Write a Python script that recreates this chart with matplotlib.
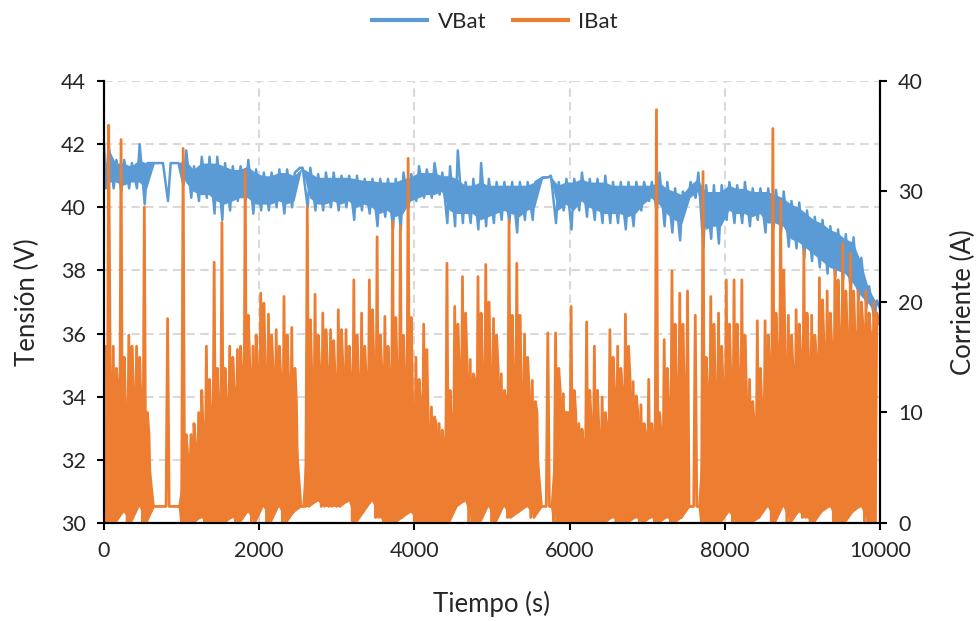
import numpy as np
import matplotlib
matplotlib.use("Agg")
import matplotlib.pyplot as plt

plt.rcParams['font.family'] = ['Lato', 'DejaVu Sans']
plt.rcParams['path.simplify'] = False

# 100 s bins, 0 ... 9900 s
t_bins = np.arange(0, 10000, 100)

# IBat per bin: floor, first spike, second spike and top of the dense band (A)
ibat_lo = [0, 0, 1, 0, 1.5, 0, 1.5, 1.5, 1.5, 1.5,
           0, 0, 0.5, 0, 0, 0, 0.5, 0, 1, 0,
           1.5, 0, 1.5, 0, 1, 1.5, 1.5, 2, 1.5, 1.5,
           1.5, 2, 0, 1, 2, 0.5, 0, 0, 0.5, 1,
           0, 0, 0, 0, 0, 1.5, 2, 0, 0, 1.5,
           0, 1.5, 0.5, 1, 1.5, 0.5, 1.5, 1.5, 0, 0,
           0, 0, 0, 0, 0, 0.5, 0, 0, 0.5, 0,
           0.5, 0, 0.5, 0, 0.5, 1.5, 1.5, 0, 0, 0,
           1, 0, 0, 0, 0.5, 1.5, 0, 1.5, 0, 1,
           0.5, 0, 1, 1.5, 0, 0, 1, 1.5, 0, 0]
ibat_peak = [16, 16, 34.7, 17, 16, 28.6, 1.5, 1.5, 18.5, 1.5,
             33.9, 8, 10, 16, 23.6, 27.2, 16, 15.7, 31.9, 16,
             20.8, 18.9, 17.5, 20.5, 17.7, 1.5, 28.6, 20.7, 19.0, 17.5,
             19.3, 17.5, 22, 19, 22, 25.9, 18.7, 27.3, 26.9, 33.0,
             15, 18, 10.5, 9, 23.5, 19.6, 22.3, 14.8, 22.3, 23.4,
             18.5, 13.5, 27.4, 23.5, 17.1, 12.9, 1.5, 17.2, 17.2, 11.7,
             19.6, 9, 18.2, 16, 11.4, 17.5, 16, 18.9, 12.8, 10.7,
             13, 37.4, 16.6, 22.8, 20.8, 21, 18.8, 31.8, 20.5, 19,
             22, 22, 22, 13, 18.3, 18.3, 35.7, 29.2, 18.8, 19.3,
             24.7, 18.8, 22.2, 21, 22.9, 25.3, 24.4, 21, 21, 20]
ibat_peak2 = [36, 14, 15, 16, 15, 10, 1.5, 1.5, 1.5, 1.5,
              8, 9, 12, 13, 14, 14, 15, 16, 18.8, 17,
              19.9, 17, 16, 17, 14, 1.5, 18.4, 17, 17.5, 16.5,
              17.5, 16, 17, 16, 19.3, 17, 16, 18.6, 17, 18.6,
              13, 15.7, 9.6, 8.4, 12, 18, 19, 13.5, 19, 20,
              17, 12, 18.8, 18.8, 15, 11, 1.5, 1.5, 14, 10,
              12, 8.5, 12, 12, 10, 15, 14, 16, 11.5, 9,
              9, 10, 14, 18, 18, 1.5, 1.5, 15, 18, 16,
              18, 18, 17, 11, 14, 17, 19, 22.9, 17, 18,
              19, 17, 20.2, 19, 22, 21, 21, 20, 19, 19]
ibat_body = [14, 12, 10, 12, 10, 8, 1.5, 1.5, 1.5, 1.5,
             6, 7, 8, 9, 10, 11, 12, 13, 14, 14,
             14, 14, 13, 13, 11, 1.5, 13, 14, 14, 13,
             14, 13, 13, 13, 14, 14, 13, 13, 12, 10,
             11, 9, 9, 7, 8, 14, 14, 13, 13, 14,
             14, 11, 13, 12, 12, 10, 1.5, 1.5, 12, 10,
             10, 7, 9, 8, 8, 12, 12, 13, 10, 8,
             7, 8, 10, 12, 12, 1.5, 1.5, 12, 12, 12,
             13, 13, 12, 9, 10, 14, 15, 15, 14, 15,
             15, 15, 16, 16, 17, 17, 17, 18, 17, 18]
ibat_end = 18.4

# VBat per bin: extreme low / high samples (V)
vbat_lo = [40.6, 40.6, 40.5, 40.6, 40.6, 40.1, 41.4, 41.4, 40.2, 41.4,
           40.7, 40.3, 40.2, 40.3, 39.8, 39.6, 39.9, 40.2, 40.2, 39.8,
           39.9, 39.9, 40.0, 39.8, 40.0, 41.25, 40.0, 39.9, 39.9, 40.0,
           39.9, 40.0, 39.6, 39.9, 39.8, 39.4, 39.7, 39.3, 39.3, 40.0,
           40.2, 40.3, 40.3, 40.4, 39.5, 39.4, 39.5, 39.5, 39.3, 39.4,
           39.5, 39.6, 39.5, 39.2, 39.6, 39.6, 40.9, 40.95, 39.5, 39.9,
           39.3, 39.9, 39.7, 39.6, 39.5, 39.5, 39.5, 39.3, 39.4, 39.9,
           40.2, 39.9, 39.4, 39.2, 38.95, 40.2, 40.3, 38.7, 39.0, 38.85,
           39.6, 39.5, 39.5, 39.4, 39.6, 39.2, 39.3, 39.2, 38.75, 38.7,
           38.4, 38.3, 38.1, 37.9, 37.8, 37.7, 37.3, 37.05, 36.85, 36.5]
vbat_hi = [42.0, 41.5, 41.5, 41.4, 42.0, 41.4, 41.4, 41.4, 41.4, 41.4,
           41.8, 41.3, 41.6, 41.6, 41.6, 41.4, 41.3, 41.3, 41.5, 41.2,
           41.1, 41.1, 41.2, 41.2, 41.1, 41.25, 41.25, 41.05, 41.1, 41.1,
           41.0, 41.0, 41.0, 40.9, 40.9, 40.9, 40.9, 40.9, 41.1, 41.05,
           41.3, 41.2, 41.4, 41.1, 41.3, 41.8, 40.8, 40.9, 41.4, 40.9,
           40.8, 40.8, 40.8, 40.8, 40.8, 40.8, 40.95, 41.0, 40.8, 40.9,
           40.9, 41.1, 40.9, 40.9, 41.0, 40.8, 40.8, 40.8, 40.8, 40.8,
           40.8, 41.1, 40.8, 40.6, 40.5, 40.8, 41.1, 40.7, 40.7, 40.7,
           40.8, 40.7, 40.8, 40.6, 40.6, 40.6, 40.55, 40.5, 40.2, 40.15,
           39.9, 39.7, 39.6, 39.4, 39.3, 39.15, 39.05, 38.4, 37.5, 37.05]
vbat_start = 42.0
vbat_end = 36.8

# VBat per bin: edges of the dense band (V)
vband_lo = [40.8, 40.8, 40.7, 40.8, 40.8, 40.6, 41.4, 41.4, 41.4, 41.4,
            40.8, 40.5, 40.4, 40.4, 40.2, 40.1, 40.2, 40.3, 40.3, 40.1,
            40.1, 40.1, 40.2, 40.1, 40.2, 41.25, 40.3, 40.1, 40.1, 40.2,
            40.1, 40.2, 40.0, 40.1, 40.0, 39.8, 39.9, 39.7, 39.8, 40.2,
            40.3, 40.4, 40.4, 40.5, 39.9, 39.8, 39.8, 39.8, 39.6, 39.7,
            39.8, 39.9, 39.8, 39.7, 39.9, 40.0, 40.9, 40.95, 39.9, 40.1,
            39.9, 40.2, 40.0, 39.9, 39.8, 39.8, 39.8, 39.7, 39.8, 40.1,
            40.3, 40.1, 39.8, 39.6, 39.5, 40.3, 40.5, 39.3, 39.4, 39.4,
            39.9, 39.8, 39.8, 39.7, 39.8, 39.5, 39.5, 39.4, 39.0, 38.9,
            38.7, 38.5, 38.3, 38.1, 38.0, 37.9, 37.6, 37.2, 36.95, 36.6]
vband_hi = [41.9, 41.4, 41.4, 41.3, 41.5, 41.4, 41.4, 41.4, 41.4, 41.4,
            41.5, 41.2, 41.4, 41.4, 41.4, 41.3, 41.2, 41.2, 41.3, 41.1,
            41.0, 41.0, 41.1, 41.1, 41.0, 41.25, 41.1, 40.95, 40.95, 40.95,
            40.95, 40.95, 40.9, 40.85, 40.85, 40.8, 40.8, 40.8, 40.9, 40.95,
            41.1, 41.1, 41.1, 41.0, 41.0, 40.9, 40.7, 40.7, 40.8, 40.7,
            40.7, 40.7, 40.7, 40.7, 40.7, 40.8, 40.95, 41.0, 40.7, 40.8,
            40.8, 40.9, 40.8, 40.8, 40.8, 40.7, 40.7, 40.7, 40.7, 40.7,
            40.7, 40.8, 40.6, 40.5, 40.4, 40.7, 40.9, 40.5, 40.5, 40.5,
            40.7, 40.6, 40.6, 40.5, 40.5, 40.5, 40.4, 40.3, 40.1, 40.0,
            39.8, 39.6, 39.5, 39.3, 39.2, 39.0, 38.9, 38.3, 37.45, 37.0]

blue = '#5B9BD5'
orange = '#ED7D31'
text_col = '#262626'

# within each bin the current swings floor -> spike -> floor -> spike -> band top
t_i = (t_bins[:, None] + np.array([0, 20, 40, 60, 80])).ravel()
i_vals = np.column_stack([ibat_lo, ibat_peak, ibat_lo, ibat_peak2, ibat_body]).ravel()
t_i = np.append(t_i, 10000)
i_vals = np.append(i_vals, ibat_end)

t_v = (t_bins[:, None] + np.array([25, 60])).ravel()
v_vals = np.column_stack([vbat_lo, vbat_hi]).ravel()
t_v = np.concatenate([[0], t_v, [10000]])
v_vals = np.concatenate([[vbat_start], v_vals, [vbat_end]])

t_mid = t_bins + 50

fig = plt.figure(figsize=(9.8, 6.21), dpi=100)
ax = fig.add_axes([0.1061, 0.1578, 0.7918, 0.7118])
ax2 = ax.twinx()

ax.fill_between(t_mid, vband_lo, vband_hi, color=blue, lw=0)
lv, = ax.plot(t_v, v_vals, color=blue, lw=1.8, label='VBat')
ax2.fill_between(t_mid, ibat_lo, ibat_body, color=orange, lw=0)
li, = ax2.plot(t_i, i_vals, color=orange, lw=2.0, label='IBat')

ax.set_xlim(0, 10000)
ax.set_ylim(30, 44)
ax2.set_ylim(0, 40)
ax.set_xticks(np.arange(0, 10001, 2000))
ax.set_yticks(np.arange(30, 45, 2))
ax2.set_yticks(np.arange(0, 41, 10))

ax.set_axisbelow(True)
ax.grid(True, color='#D9D9D9', lw=1.5, linestyle=(0, (4, 2.6)))

for a in (ax, ax2):
    a.spines['top'].set_visible(False)
    for s in ('left', 'right', 'bottom'):
        a.spines[s].set_linewidth(1.5)
        a.spines[s].set_color('black')
    a.tick_params(direction='out', length=5, width=1.5, color='black',
                  labelsize=15.5, labelcolor=text_col, pad=8)

ax.set_xlabel('Tiempo (s)', fontsize=18.5, color=text_col, va='center')
ax.set_ylabel('Tensión (V)', fontsize=18.5, color=text_col, va='center')
ax2.set_ylabel('Corriente (A)', fontsize=18.5, color=text_col, va='center')
ax.xaxis.set_label_coords(0.5, -0.183)
ax.yaxis.set_label_coords(-0.099, 0.5)
ax2.yaxis.set_label_coords(1.107, 0.5)

leg = fig.legend(handles=[lv, li], loc='center', bbox_to_anchor=(0.505, 0.9646),
                 ncol=2, frameon=False, fontsize=16, handlelength=2.5,
                 handletextpad=0.45, columnspacing=1.2)
for h in leg.legend_handles:
    h.set_linewidth(3)
for t in leg.get_texts():
    t.set_color(text_col)

fig.savefig('out.png', dpi=100)
